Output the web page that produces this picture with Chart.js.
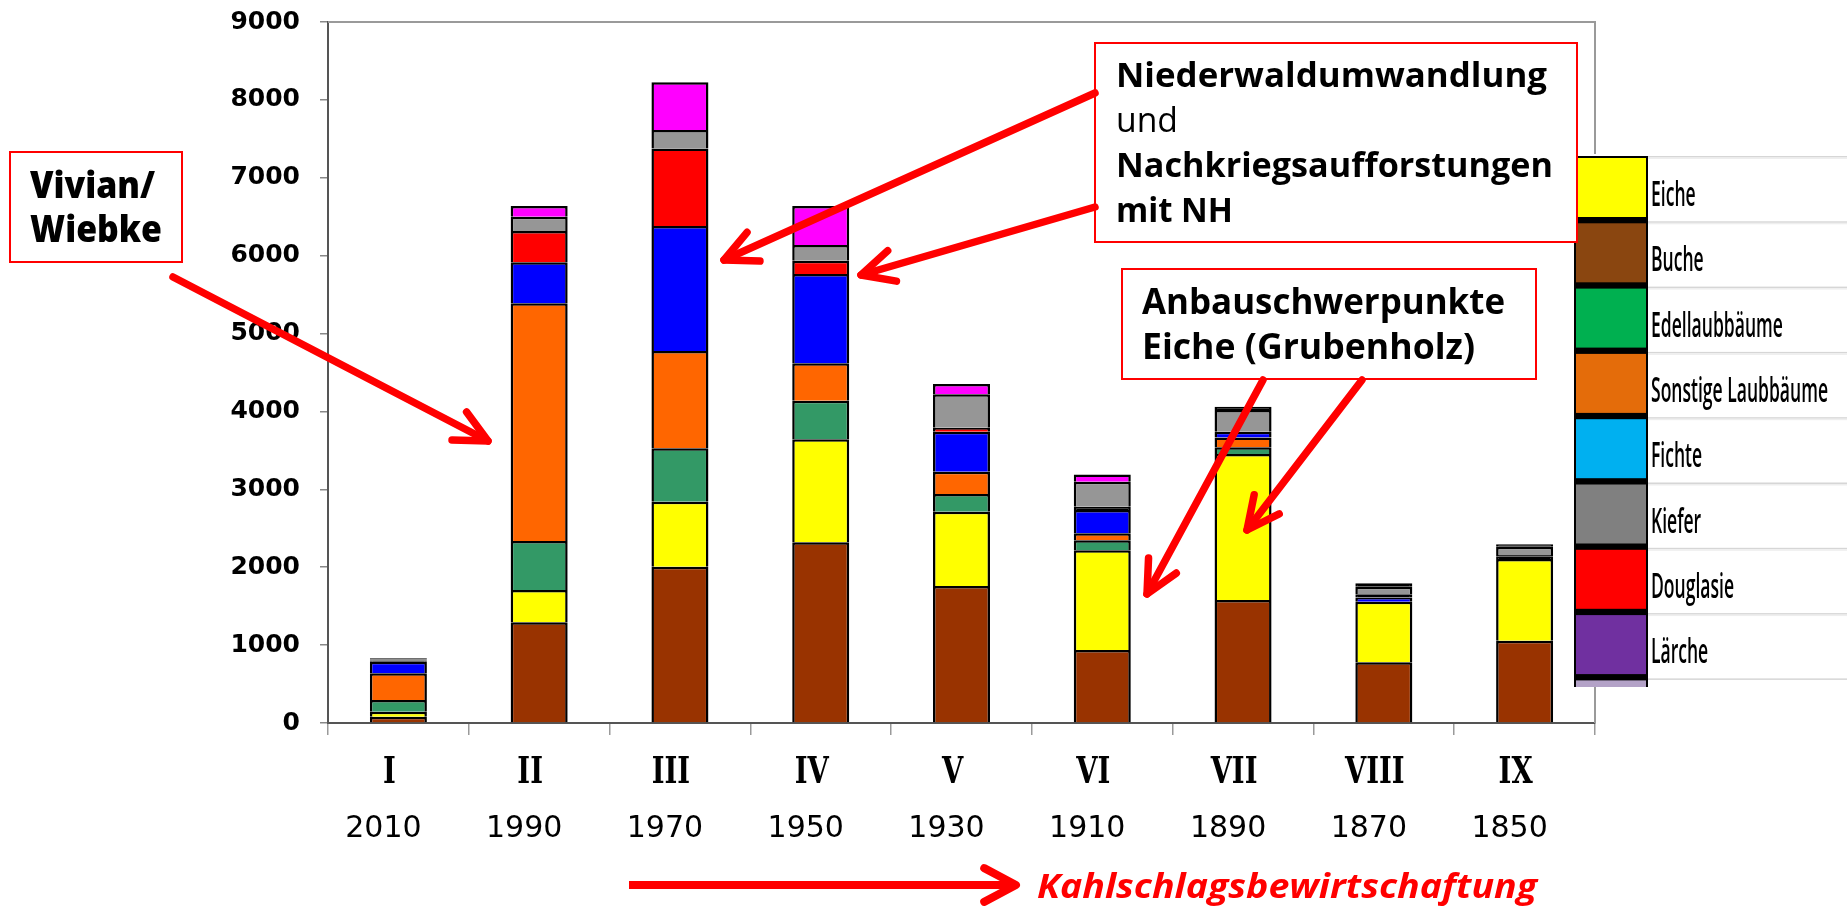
<!DOCTYPE html>
<html>
<head>
<meta charset="utf-8">
<script src="https://cdn.jsdelivr.net/npm/chart.js@4.4.1/dist/chart.umd.min.js"></script>
<style>
  html, body { margin: 0; padding: 0; background: #fff; overflow: hidden; }
  #wrap { position: relative; width: 1847px; height: 913px; }
</style>
</head>
<body>
<div id="wrap"><canvas id="chart" width="1847" height="913"></canvas></div>
<script>
// Altersklassen (categories) and their reference years
const categories = ['I', 'II', 'III', 'IV', 'V', 'VI', 'VII', 'VIII', 'IX'];
const years = ['2010', '1990', '1970', '1950', '1930', '1910', '1890', '1870', '1850'];

// Area per tree species, stacked bottom to top
const buche     = [81, 1293, 2006, 2320, 1759, 937, 1579, 779, 1057];
const eiche     = [64, 414, 835, 1322, 954, 1280, 1874, 778, 1048];
const edellaub  = [150, 629, 685, 496, 227, 130, 86, 0, 0];
const sonstLaub = [343, 3052, 1249, 480, 286, 88, 128, 0, 0];
const fichte    = [149, 526, 1605, 1146, 514, 299, 73, 55, 30];
const douglasie = [15, 402, 997, 171, 50, 43, 0, 40, 22];
const kiefer    = [14, 183, 235, 201, 430, 321, 278, 98, 105];
const laerche   = [14, 138, 616, 501, 132, 94, 42, 43, 32];

const seriesNames  = ['Buche', 'Eiche', 'Edellaubbäume', 'Sonstige Laubbäume', 'Fichte', 'Douglasie', 'Kiefer', 'Lärche'];
const seriesValues = [buche, eiche, edellaub, sonstLaub, fichte, douglasie, kiefer, laerche];
const seriesColors = ['#993300', '#FFFF00', '#339966', '#FF6600', '#0000FF', '#FF0000', '#969696', '#FF00FF'];

// Legend (pasted picture in the original, own order and colours)
const legendNames  = ['Eiche', 'Buche', 'Edellaubbäume', 'Sonstige Laubbäume', 'Fichte', 'Kiefer', 'Douglasie', 'Lärche'];
const legendColors = ['#FFFF00', '#8A4610', '#00B050', '#E46C0A', '#00B0F0', '#808080', '#FF0000', '#7030A0'];

const RED = '#FF0000';

// draw text squeezed/stretched to a given width
function fitText(ctx, text, x, y, width) {
  const w = ctx.measureText(text).width;
  ctx.save();
  ctx.translate(x, y);
  ctx.scale(width / w, 1);
  ctx.textAlign = 'left';
  ctx.fillText(text, 0, 0);
  ctx.restore();
}

function redBox(ctx, x, y, w, h) {
  ctx.fillStyle = '#fff';
  ctx.fillRect(x, y, w, h);
  ctx.strokeStyle = RED;
  ctx.lineWidth = 2;
  ctx.strokeRect(x, y, w, h);
}

function arrow(ctx, x1, y1, x2, y2, width, head, ang, cap) {
  const t = Math.atan2(y2 - y1, x2 - x1);
  ctx.strokeStyle = RED;
  ctx.lineWidth = width;
  ctx.lineCap = cap;
  ctx.lineJoin = 'round';
  ctx.beginPath();
  ctx.moveTo(x1, y1);
  ctx.lineTo(x2 - (cap === 'butt' ? 4 * Math.cos(t) : 0), y2 - (cap === 'butt' ? 4 * Math.sin(t) : 0));
  ctx.stroke();
  ctx.lineCap = 'round';
  ctx.beginPath();
  ctx.moveTo(x2 - head * Math.cos(t - ang), y2 - head * Math.sin(t - ang));
  ctx.lineTo(x2, y2);
  ctx.lineTo(x2 - head * Math.cos(t + ang), y2 - head * Math.sin(t + ang));
  ctx.stroke();
}

const overlay = {
  id: 'overlay',
  afterDraw(chart) {
    const { ctx, chartArea: a, scales: { x: xs } } = chart;
    ctx.save();

    // top / right frame of the plot
    ctx.strokeStyle = '#9a9a9a';
    ctx.lineWidth = 2;
    ctx.beginPath();
    ctx.moveTo(a.left, a.top);
    ctx.lineTo(a.right, a.top);
    ctx.lineTo(a.right, a.bottom);
    ctx.stroke();

    // category labels: roman numerals + years
    ctx.fillStyle = '#000';
    ctx.textBaseline = 'alphabetic';
    categories.forEach((c, i) => {
      const cx = xs.getPixelForValue(i);
      ctx.save();
      ctx.translate(cx - 9, 783);
      ctx.scale(0.74, 1);
      ctx.font = 'bold 37px "DejaVu Serif"';
      ctx.textAlign = 'center';
      ctx.fillText(c, 0, 0);
      ctx.restore();
      ctx.font = '30px "DejaVu Sans"';
      ctx.textAlign = 'center';
      ctx.fillText(years[i], cx - 15, 837);
    });

    // legend
    const lx = 1574, ltop = 156, pitch = 65.3;
    ctx.fillStyle = '#fff';
    ctx.fillRect(lx - 2, ltop - 2, 1847 - lx + 2, 533);
    ctx.fillStyle = '#000';
    ctx.fillRect(lx, ltop, 74, 531);
    ctx.font = '600 35px "Open Sans"';
    const sx = 177 / ctx.measureText('Sonstige Laubbäume').width;
    legendNames.forEach((name, i) => {
      const y = ltop + i * pitch;
      ctx.fillStyle = '#d6d6d6';
      ctx.fillRect(lx + 74, y, 1847 - lx - 74, 1.5);
      ctx.fillStyle = '#eeeeee';
      ctx.fillRect(lx + 74, y + 1.5, 1847 - lx - 74, 1.5);
      ctx.fillStyle = legendColors[i];
      ctx.fillRect(lx + 2, y + 2, 70, 59);
      ctx.fillStyle = '#000';
      ctx.save();
      ctx.translate(lx + 77, y + 50);
      ctx.scale(sx, 1);
      ctx.textAlign = 'left';
      ctx.fillText(name, 0, 0);
      ctx.restore();
    });
    const y9 = ltop + 8 * pitch;
    ctx.fillStyle = '#d6d6d6';
    ctx.fillRect(lx + 74, y9, 1847 - lx - 74, 1.5);
    ctx.fillStyle = '#B3A2C7';
    ctx.fillRect(lx + 2, y9 + 2, 70, ltop + 531 - y9 - 2);

    // annotation boxes
    redBox(ctx, 10, 152, 172, 110);
    ctx.fillStyle = '#000';
    ctx.font = '800 37px "Open Sans"';
    fitText(ctx, 'Vivian/', 30, 198, 125);
    fitText(ctx, 'Wiebke', 30, 242, 132);

    redBox(ctx, 1095, 43, 482, 199);
    ctx.fillStyle = '#000';
    ctx.font = 'bold 34px "Open Sans"';
    fitText(ctx, 'Niederwaldumwandlung', 1116, 87, 431);
    ctx.font = '34px "Open Sans"';
    fitText(ctx, 'und', 1116, 132, 62);
    ctx.font = 'bold 34px "Open Sans"';
    fitText(ctx, 'Nachkriegsaufforstungen', 1116, 177, 437);
    fitText(ctx, 'mit NH', 1116, 222, 117);

    redBox(ctx, 1122, 269, 414, 110);
    ctx.fillStyle = '#000';
    ctx.font = 'bold 35px "Open Sans"';
    fitText(ctx, 'Anbauschwerpunkte', 1142, 314, 363);
    fitText(ctx, 'Eiche (Grubenholz)', 1142, 359, 333);

    // arrows
    const a26 = 26 * Math.PI / 180;
    arrow(ctx, 173, 277, 488, 441, 7.5, 36, a26, 'round');
    arrow(ctx, 1095, 93, 724, 260, 7.5, 36, a26, 'round');
    arrow(ctx, 1095, 207, 861, 275, 7.5, 36, a26, 'round');
    arrow(ctx, 1263, 380, 1147, 594, 7.5, 36, a26, 'round');
    arrow(ctx, 1362, 380, 1247, 530, 7.5, 36, a26, 'round');
    arrow(ctx, 629, 885, 1016, 885, 8, 36, 28 * Math.PI / 180, 'butt');

    ctx.fillStyle = RED;
    ctx.font = 'italic bold 34px "Open Sans"';
    fitText(ctx, 'Kahlschlagsbewirtschaftung', 1037, 898, 500);

    ctx.restore();
  }
};

new Chart(document.getElementById('chart'), {
  type: 'bar',
  data: {
    labels: categories,
    datasets: seriesNames.map((name, i) => ({
      label: name,
      data: seriesValues[i],
      // very thin slices show up as plain black outline in the original
      backgroundColor: (c) => (c.raw !== undefined && c.raw < 45 ? '#000' : seriesColors[i]),
      borderColor: '#000',
      borderWidth: 2.5,
      stack: 'a',
      barPercentage: 0.405,
      categoryPercentage: 1.0
    }))
  },
  options: {
    responsive: false,
    devicePixelRatio: 1,
    animation: false,
    layout: { padding: { top: 22, right: 252, bottom: 0, left: 0 } },
    plugins: {
      legend: { display: false },
      tooltip: { enabled: false }
    },
    scales: {
      x: {
        stacked: true,
        grid: { display: true, drawOnChartArea: false, drawTicks: true, tickLength: 12, color: '#9a9a9a', lineWidth: 1.5, offset: true },
        border: { display: true, color: '#555', width: 2 },
        ticks: { display: false },
        afterFit(scale) { scale.height = 190; }
      },
      y: {
        stacked: true,
        min: 0,
        max: 9000,
        ticks: {
          stepSize: 1000,
          padding: 20,
          color: '#000',
          font: { family: '"DejaVu Sans"', size: 25, weight: 'bold' },
          callback: (v) => String(v)
        },
        grid: { display: true, drawOnChartArea: false, drawTicks: true, tickLength: 8, color: '#888', lineWidth: 1.5 },
        border: { display: true, color: '#555', width: 2 },
        afterFit(scale) {
          scale.width = 328;
          scale.paddingTop = 0;
          scale.paddingBottom = 0;
        }
      }
    }
  },
  plugins: [overlay]
});
</script>
</body>
</html>
